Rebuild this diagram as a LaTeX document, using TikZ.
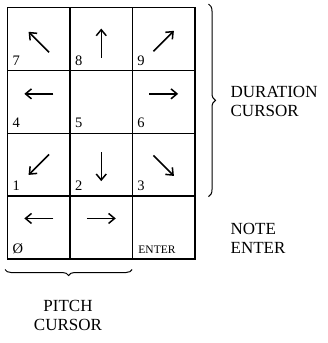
\documentclass[tikz,border=0pt]{standalone}
\usepackage{fontspec}
\setmainfont{Liberation Serif}
\usetikzlibrary{arrows.meta,decorations.pathreplacing}
\begin{document}
\begin{tikzpicture}[x=1pt, y=-1pt, line width=1.3pt, >={Straight Barb[length=6pt,width=10pt]},
  key/.style={draw, minimum width=62.4pt, minimum height=62.8pt, inner sep=0pt, anchor=north west},
  num/.style={font=\fontsize{14.5}{14}\selectfont, anchor=base west, inner sep=0pt},
  side/.style={font=\fontsize{17}{19}\selectfont, align=left, inner sep=0pt},
  declare function={w=62.4; h=62.8;}]
  \useasboundingbox (0,0) rectangle (328,343);
  % keypad
  \foreach \n/\c/\r in {7/0/0, 8/1/0, 9/2/0, 4/0/1, 5/1/1, 6/2/1, 1/0/2, 2/1/2, 3/2/2, 0/0/3, r/1/3, e/2/3}{
    \node[key] (k\n) at (7+\c*w, 7+\r*h) {};
  }
  \foreach \n/\t in {7/7, 8/8, 9/9, 4/4, 5/5, 6/6, 1/1, 2/2, 3/3, 0/Ø}{
    \node[num] (n\n) at ([shift={(5,-6)}]k\n.south west) {\t};
  }
  \node[num, font=\fontsize{11.5}{12}\selectfont] (ne) at ([shift={(6,-6)}]ke.south west) {ENTER};
  % cursor arrows
  \foreach \n/\a/\d in {7/-135/-3, 8/-90/-4, 9/-45/-2, 4/180/8, 6/0/8, 1/135/0, 2/90/-2, 3/45/-1, 0/180/9, r/0/9}{
    \draw[->, line width=1.5pt] ([yshift=\d]k\n.center) +(\a+180:14.5) -- +(\a:14.5);
  }
  % braces and labels
  \draw[decorate, decoration={brace, amplitude=7pt}, line width=1pt] ([shift={(13,-3)}]k9.north east) -- ([shift={(13,0)}]k3.south east);
  \draw[decorate, decoration={brace, amplitude=6pt}, line width=1pt] ([shift={(-1,10)}]kr.south east) -- ([shift={(-2,10)}]k0.south west);
  \node[side, anchor=west] (dur) at (230,101) {DURATION\\CURSOR};
  \node[side, anchor=west] (note) at (230,238) {NOTE\\ENTER};
  \node[side, align=center] (pitch) at (68,315) {PITCH\\CURSOR};
\end{tikzpicture}
\end{document}
